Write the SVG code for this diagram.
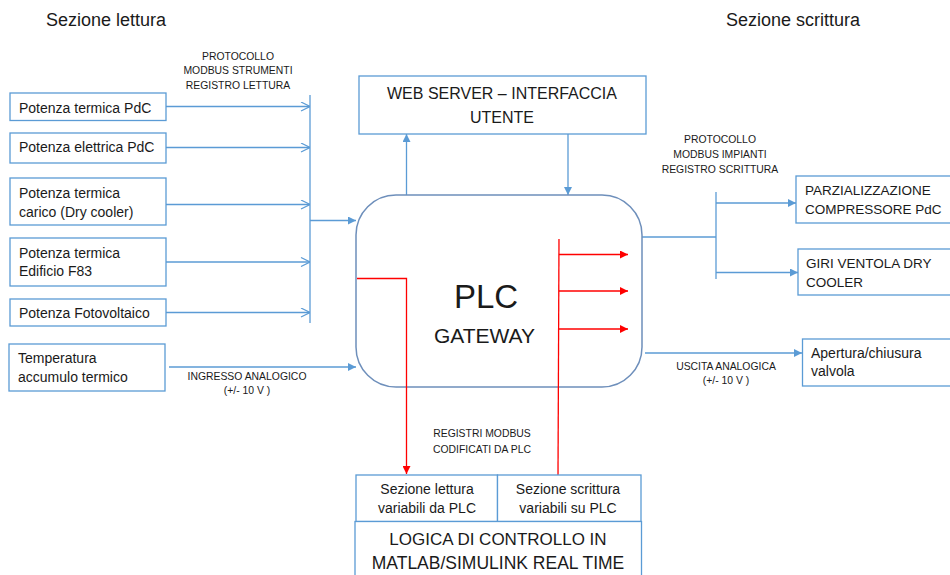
<svg xmlns="http://www.w3.org/2000/svg" width="950" height="575" viewBox="0 0 950 575">
  <defs>
    <marker id="open" viewBox="0 0 10 10" refX="10" refY="5" markerWidth="10" markerHeight="10" markerUnits="userSpaceOnUse" orient="auto">
      <path d="M1,0.5 L10,5 L1,9.5" fill="none" stroke="#5B9BD5" stroke-width="1.2"/>
    </marker>
    <marker id="blue" viewBox="0 0 10 10" refX="10" refY="5" markerWidth="8" markerHeight="8" markerUnits="userSpaceOnUse" orient="auto">
      <path d="M0,0 L10,5 L0,10 Z" fill="#5B9BD5"/>
    </marker>
    <marker id="red" viewBox="0 0 10 10" refX="10" refY="5" markerWidth="8" markerHeight="8" markerUnits="userSpaceOnUse" orient="auto">
      <path d="M0,0 L10,5 L0,10 Z" fill="#FF0000"/>
    </marker>
    <style>
      text { font-family: "Liberation Sans", Arial, sans-serif; fill: #1a1a1a; }
      .box { fill: #ffffff; stroke: #5B9BD5; stroke-width: 1.3; }
      .plc { fill: #ffffff; stroke: #6E8FBB; stroke-width: 1.5; }
      .lbl { font-size: 14px; }
      .cap { font-size: 13.5px; }
      .small { font-size: 10.4px; text-anchor: middle; }
      .head { font-size: 18px; }
      .mid { text-anchor: middle; }
      .bl { fill: none; stroke: #5B9BD5; stroke-width: 1.3; }
      .rd { fill: none; stroke: #FF0000; stroke-width: 1.3; }
    </style>
  </defs>

  <rect width="950" height="575" fill="#ffffff"/>

  <!-- section headings -->
  <text class="head" x="46" y="26">Sezione lettura</text>
  <text class="head" x="726" y="26">Sezione scrittura</text>

  <!-- protocol annotations -->
  <text class="small" x="238" y="59.5">PROTOCOLLO</text>
  <text class="small" x="238" y="74">MODBUS STRUMENTI</text>
  <text class="small" x="238" y="89">REGISTRO LETTURA</text>

  <text class="small" x="720" y="142.7">PROTOCOLLO</text>
  <text class="small" x="720" y="157.7">MODBUS IMPIANTI</text>
  <text class="small" x="720" y="172.7">REGISTRO SCRITTURA</text>

  <text class="small" x="247" y="379.5">INGRESSO ANALOGICO</text>
  <text class="small" x="247" y="394">(+/- 10 V )</text>

  <text class="small" x="726" y="369.5">USCITA ANALOGICA</text>
  <text class="small" x="726" y="384">(+/- 10 V )</text>

  <text class="small" x="482" y="436.8">REGISTRI MODBUS</text>
  <text class="small" x="482" y="452.8">CODIFICATI DA PLC</text>

  <!-- connectors -->
  <g id="connectors">
    <!-- read bus -->
    <line class="bl" x1="310" y1="95" x2="310" y2="323"/>
    <line class="bl" x1="166" y1="106.5" x2="310" y2="106.5" marker-end="url(#open)"/>
    <line class="bl" x1="166" y1="147.5" x2="310" y2="147.5" marker-end="url(#open)"/>
    <line class="bl" x1="166" y1="204.5" x2="310" y2="204.5" marker-end="url(#open)"/>
    <line class="bl" x1="166" y1="262" x2="310" y2="262" marker-end="url(#open)"/>
    <line class="bl" x1="166" y1="312.5" x2="310" y2="312.5" marker-end="url(#open)"/>
    <line class="bl" x1="310" y1="220.5" x2="356" y2="220.5" marker-end="url(#blue)"/>
    <!-- analog input -->
    <line class="bl" x1="169" y1="367" x2="356" y2="367" marker-end="url(#blue)"/>
    <!-- web server link -->
    <line class="bl" x1="406.5" y1="195" x2="406.5" y2="134" marker-end="url(#blue)"/>
    <line class="bl" x1="568" y1="134" x2="568" y2="195" marker-end="url(#blue)"/>
    <!-- write bus -->
    <line class="bl" x1="642" y1="237" x2="716" y2="237"/>
    <line class="bl" x1="716" y1="192" x2="716" y2="279"/>
    <line class="bl" x1="716" y1="203" x2="796" y2="203" marker-end="url(#blue)"/>
    <line class="bl" x1="716" y1="272.5" x2="798" y2="272.5" marker-end="url(#blue)"/>
    <!-- analog output -->
    <line class="bl" x1="645" y1="353" x2="802" y2="353" marker-end="url(#blue)"/>
  </g>

  <!-- left input nodes -->
  <g id="n-pot-term-pdc">
    <rect class="box" x="10" y="93" width="156" height="27.5"/>
    <text class="lbl" x="19" y="112.5">Potenza termica PdC</text>
  </g>
  <g id="n-pot-el-pdc">
    <rect class="box" x="10" y="133" width="156" height="30"/>
    <text class="lbl" x="19" y="151.5">Potenza elettrica PdC</text>
  </g>
  <g id="n-pot-carico">
    <rect class="box" x="10" y="178" width="156" height="47"/>
    <text class="lbl" x="19" y="197.5">Potenza termica</text>
    <text class="lbl" x="19" y="216.5">carico (Dry cooler)</text>
  </g>
  <g id="n-pot-edificio">
    <rect class="box" x="10" y="238" width="156" height="48"/>
    <text class="lbl" x="19" y="257.5">Potenza termica</text>
    <text class="lbl" x="19" y="275.5">Edificio F83</text>
  </g>
  <g id="n-pot-fv">
    <rect class="box" x="10" y="299" width="156" height="27"/>
    <text class="lbl" x="19" y="317.5">Potenza Fotovoltaico</text>
  </g>
  <g id="n-temp-accumulo">
    <rect class="box" x="9" y="344" width="156" height="47"/>
    <text class="lbl" x="18" y="362.5">Temperatura</text>
    <text class="lbl" x="18" y="381.5">accumulo termico</text>
  </g>

  <!-- web server -->
  <g id="n-webserver">
    <rect class="box" x="359" y="76" width="287" height="58"/>
    <text class="mid" x="502" y="99" font-size="16">WEB SERVER – INTERFACCIA</text>
    <text class="mid" x="502" y="123" font-size="16">UTENTE</text>
  </g>

  <!-- PLC gateway -->
  <g id="n-plc">
    <rect class="plc" x="356" y="195" width="286" height="192" rx="40" ry="40"/>
    <text class="mid" x="486" y="308" font-size="33">PLC</text>
    <text class="mid" x="484.5" y="343" font-size="21">GATEWAY</text>
  </g>

  <!-- register routing inside the PLC -->
  <g id="registers">
    <polyline class="rd" points="357,278.5 406.5,278.5 406.5,474" marker-end="url(#red)"/>
    <line class="rd" x1="559" y1="239" x2="558" y2="475"/>
    <line class="rd" x1="559" y1="254.5" x2="628" y2="254.5" marker-end="url(#red)"/>
    <line class="rd" x1="559" y1="291" x2="628" y2="291" marker-end="url(#red)"/>
    <line class="rd" x1="559" y1="329" x2="628" y2="329" marker-end="url(#red)"/>
  </g>

  <!-- right output nodes -->
  <g id="n-parzializzazione">
    <rect class="box" x="796" y="176" width="160" height="47"/>
    <text class="cap" x="805" y="195">PARZIALIZZAZIONE</text>
    <text class="cap" x="805" y="213.5">COMPRESSORE PdC</text>
  </g>
  <g id="n-giri-ventola">
    <rect class="box" x="798" y="249" width="160" height="46"/>
    <text class="cap" x="806" y="267.5">GIRI VENTOLA DRY</text>
    <text class="cap" x="806" y="286.5">COOLER</text>
  </g>
  <g id="n-valvola">
    <rect class="box" x="802.5" y="339" width="160" height="47"/>
    <text class="lbl" x="811" y="357.5">Apertura/chiusura</text>
    <text class="lbl" x="811" y="375.5">valvola</text>
  </g>

  <!-- control logic -->
  <g id="n-lettura">
    <rect class="box" x="356" y="475" width="141.5" height="46.5"/>
    <text class="lbl mid" x="427" y="494">Sezione lettura</text>
    <text class="lbl mid" x="427" y="513">variabili da PLC</text>
  </g>
  <g id="n-scrittura">
    <rect class="box" x="497.5" y="475" width="143.5" height="46.5"/>
    <text class="lbl mid" x="568" y="494">Sezione scrittura</text>
    <text class="lbl mid" x="568" y="513">variabili su PLC</text>
  </g>
  <g id="n-logica">
    <rect class="box" x="355" y="521.5" width="286.5" height="60"/>
    <text class="mid" x="498" y="544.5" font-size="17">LOGICA DI CONTROLLO IN</text>
    <text class="mid" x="498" y="569" font-size="17.5">MATLAB/SIMULINK REAL TIME</text>
  </g>
</svg>
